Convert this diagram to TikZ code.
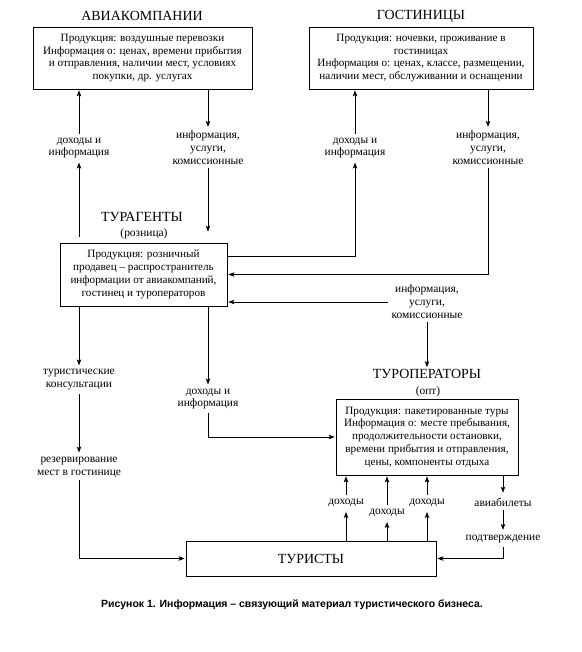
\documentclass[tikz,border=0pt]{standalone}
\usepackage{fontspec}
\setmainfont{Liberation Serif}
\newfontfamily\capfont{Liberation Sans}
\usetikzlibrary{arrows,arrows.meta}

\begin{document}
\begin{tikzpicture}[x=1bp,y=-1bp,>={Stealth[length=6bp,width=4.5bp,inset=1.5bp]},
  box/.style={draw, line width=0.8bp, align=center, font=\fontsize{11.2}{12.8}\selectfont, inner sep=2bp},
  head/.style={font=\fontsize{14}{16}\selectfont, inner sep=1bp},
  lab/.style={align=center, font=\fontsize{11.5}{13}\selectfont, inner sep=3bp},
  arr/.style={->, line width=0.7bp, shorten >=1bp}]
\useasboundingbox (0,0) rectangle (582,652);
%boxes
\node[head] (aviaT) at (142,16) {АВИАКОМПАНИИ};
\node[box, minimum width=219bp, minimum height=62bp] (avia) at (142.5,58) {Продукция: воздушные перевозки\\Информация о: ценах, времени прибытия\\и отправления, наличии мест, условиях\\покупки, др. услугах};
\node[head] (hotelT) at (421,16) {ГОСТИНИЦЫ};
\node[box, minimum width=224bp, minimum height=62bp] (hotel) at (421,58) {Продукция: ночевки, проживание в\\гостиницах\\Информация о: ценах, классе, размещении,\\наличии мест, обслуживании и оснащении};
\node[head] (agentT) at (142,217) {ТУРАГЕНТЫ};
\node[lab, inner sep=1bp] (agentS) at (144,234) {(розница)};
\node[box, minimum width=167bp, minimum height=63bp] (agent) at (143.5,274.5) {Продукция: розничный\\продавец -- распространитель\\информации от авиакомпаний,\\гостинец и туроператоров};
\node[head] (operT) at (427,374) {ТУРОПЕРАТОРЫ};
\node[lab, inner sep=1bp] (operS) at (428,392) {(опт)};
\node[box, minimum width=182bp, minimum height=76bp] (oper) at (427,437) {Продукция: пакетированные туры\\Информация о: месте пребывания,\\продолжительности остановки,\\времени прибытия и отправления,\\цены, компоненты отдыха};
\node[box, font=\fontsize{14}{16}\selectfont, minimum width=250bp, minimum height=35bp] (tour) at (311,558.5) {ТУРИСТЫ};

%labels
\node[lab] (l1) at (79,148) {доходы и\\информация};
\node[lab] (l2) at (208,148) {информация,\\услуги,\\комиссионные};
\node[lab] (l3) at (355,148) {доходы и\\информация};
\node[lab] (l4) at (488,148) {информация,\\услуги,\\комиссионные};
\node[lab] (l5) at (427,302) {информация,\\услуги,\\комиссионные};
\node[lab] (l6) at (79,380) {туристические\\консультации};
\node[lab] (l7) at (79,467) {резервирование\\мест в гостинице};
\node[lab] (l8) at (208,399) {доходы и\\информация};
\node[lab, inner sep=4bp] (d1) at (346,503) {доходы};
\node[lab, inner sep=4bp] (d2) at (387,513) {доходы};
\node[lab, inner sep=4bp] (d3) at (427,503) {доходы};
\node[lab, inner sep=4bp] (l9) at (503,502) {авиабилеты};
\node[lab, inner sep=4bp] (l10) at (503,539) {подтверждение};

%arrows
\draw[arr, shorten <=6bp] (agent.north -| l1) -- (l1);
\draw[arr] (l1) -- (l1 |- avia.south);
\draw[arr] (avia.south -| l2) -- (l2);
\draw[arr, shorten >=11bp] (l2) -- (l2 |- agent.north);
\draw[arr] ([yshift=18.5bp]agent.east) -| (l3);
\draw[arr] (l3) -- (l3 |- hotel.south);
\draw[arr] (hotel.south -| l4) -- (l4);
\draw[arr] (l4) |- (agent.east);
\draw[arr] (l5.west) -- (l5.west -| agent.east);
\draw[arr] (l5) -- (operT);
\draw[arr] (agent.south -| l6) -- (l6);
\draw[arr] (l6) -- (l7);
\draw[arr] (l7) |- (tour.west);
\draw[arr] (agent.south -| l8) -- (l8);
\draw[arr] (l8) |- (oper.west);
\foreach \d in {d1,d2,d3} {
  \draw[arr] (tour.north -| \d) -- (\d);
  \draw[arr] (\d) -- (\d |- oper.south);
}
\draw[arr] (oper.south -| l9) -- (l9);
\draw[arr] (l9) -- (l10);
\draw[arr] (l10) |- (tour.east);

%caption
\node[font=\capfont\bfseries\fontsize{10.5}{12}\selectfont] (cap) at (292,605) {Рисунок 1. Информация – связующий материал туристического бизнеса.};
\end{tikzpicture}
\end{document}
